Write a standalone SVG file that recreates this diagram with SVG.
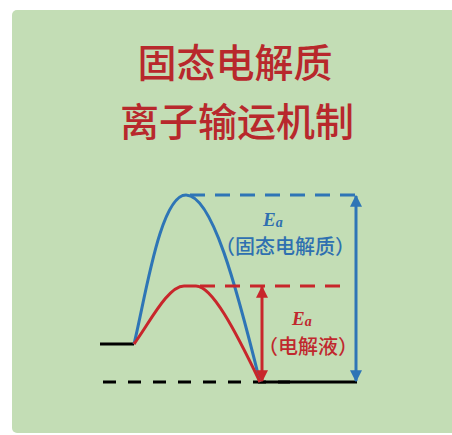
<svg xmlns="http://www.w3.org/2000/svg" width="452" height="435" viewBox="0 0 452 435">
<style>
.title{font-family:"Noto Sans CJK SC","Noto Sans CJK TC",sans-serif;font-size:39px;font-weight:500;fill:#b8282c;text-anchor:middle}
.ea{font-family:"Liberation Serif",serif;font-weight:700;font-style:italic;font-size:19px}
.lab{font-family:"Noto Sans CJK SC",sans-serif;font-size:20px;font-weight:500}
.blue{fill:#2f70b0;stroke:none}
.red{fill:#c0282d;stroke:none}
.cb{fill:none;stroke:#2e75b6;stroke-width:3}
.cr{fill:none;stroke:#c8262b;stroke-width:3}
.ck{fill:none;stroke:#000;stroke-width:3}
</style>
<defs>
<marker id="ab" viewBox="0 0 10 10" refX="9" refY="5" markerWidth="4" markerHeight="4" orient="auto-start-reverse"><path d="M0,0 L10,5 L0,10 z" fill="#2e75b6"/></marker>
<marker id="ar" viewBox="0 0 10 10" refX="9" refY="5" markerWidth="4" markerHeight="4" orient="auto-start-reverse"><path d="M0,0 L10,5 L0,10 z" fill="#c8262b"/></marker>
</defs>
<rect x="0" y="0" width="452" height="435" fill="#ffffff"/>
<rect x="12" y="10" width="450" height="423" rx="5" fill="#c3ddb5"/>
<g id="title">
<text class="title" x="235" y="77">固态电解质</text>
<text class="title" x="237" y="136">离子输运机制</text>
</g>
<g id="connectors">
<line class="ck" x1="100" y1="344" x2="134" y2="344"/>
<line class="ck" x1="103" y1="382" x2="290" y2="382" stroke-dasharray="13 12"/>
<line class="ck" x1="258" y1="382" x2="357" y2="382"/>
<path class="cb" d="M134,344 C145,300 160,195 186,195 C212,195 236,285 260,382"/>
<path class="cr" d="M134,344 C150,322 168,286 184,286 L196,286 C212,286 235,330 260,382"/>
<line class="cb" x1="190" y1="195" x2="356" y2="195" stroke-dasharray="15 10"/>
<line class="cr" x1="200" y1="286" x2="346" y2="286" stroke-dasharray="15 10"/>
<line class="cb" x1="356" y1="196" x2="356" y2="381" marker-start="url(#ab)" marker-end="url(#ab)"/>
<line class="cr" x1="262" y1="287" x2="262" y2="381" marker-start="url(#ar)" marker-end="url(#ar)"/>
</g>
<g id="label-solid">
<text class="ea blue" x="263" y="226">E<tspan font-size="14" dy="1">a</tspan></text>
<text class="lab blue" x="285" y="254" text-anchor="middle">（固态电解质）</text>
</g>
<g id="label-liquid">
<text class="ea red" x="292" y="325">E<tspan font-size="14" dy="1">a</tspan></text>
<text class="lab red" x="308" y="354" text-anchor="middle">（电解液）</text>
</g>
</svg>
